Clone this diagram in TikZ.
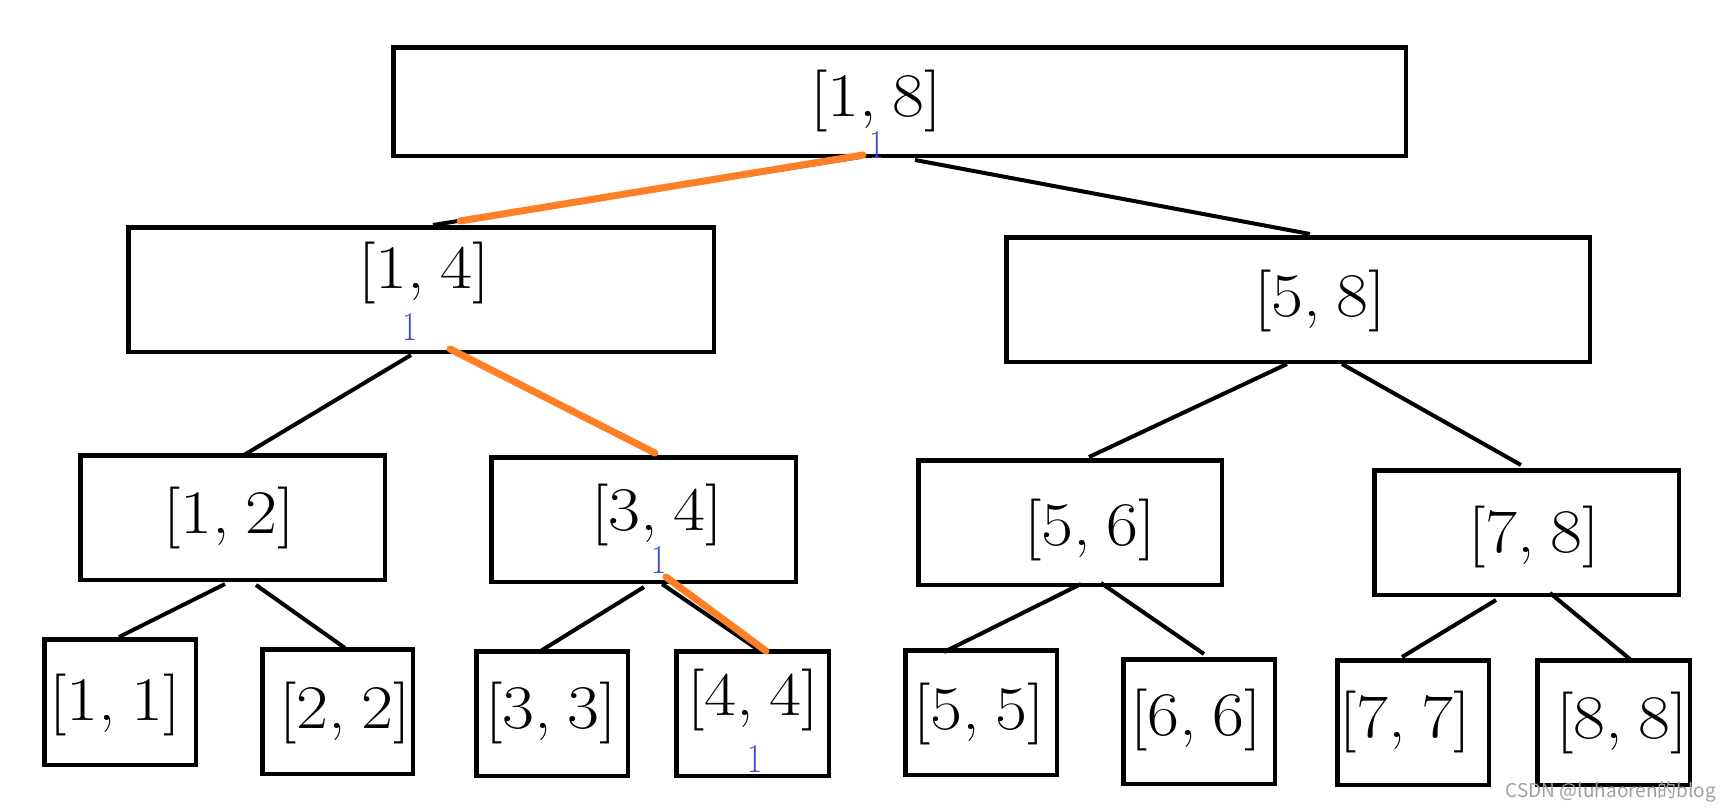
\documentclass[tikz,border=0pt]{standalone}
\usepackage{fontspec}
\newfontfamily\cjk{Noto Sans CJK SC}
\usetikzlibrary{calc}
\definecolor{ora}{RGB}{255,127,39}
\definecolor{blu}{RGB}{63,72,204}
\definecolor{wmc}{RGB}{160,160,160}
\newcommand{\iv}[2]{\scalebox{1.12}[1]{[#1,\hspace{0.22em}#2]}}
\newcommand{\bx}[5]{\node[box,minimum width={(#4-#2-4.5)*1pt},minimum height={(#5-#3-4.5)*1pt}] (#1) at ({(#2+#4)/2},{(#3+#5)/2}) {};}
\begin{document}
\begin{tikzpicture}[x=1pt,y=-1pt,
  box/.style={draw=black,line width=4.5pt,inner sep=0pt,fill=white},
  lbl/.style={inner sep=0pt,font=\fontsize{62}{72}\selectfont},
  num/.style={inner sep=0pt,text=blu,font=\fontsize{41}{48}\selectfont},
  edge/.style={draw=black,line width=4pt},
  hot/.style={draw=ora,line width=7pt,line cap=round},
  wmark/.style={inner sep=0pt,text=wmc,font=\cjk\fontsize{19}{21}\selectfont}]
\fill[white] (0,0) rectangle (1728,811);
\useasboundingbox (0,0) rectangle (1728,811);

% boxes
\bx{r}{391}{45}{1408}{158}
\bx{a}{126}{225}{716}{354}
\bx{b}{1004}{235}{1592}{364}
\bx{c}{78}{453}{387}{582}
\bx{d}{489}{455}{798}{584}
\bx{e}{916}{458}{1224}{587}
\bx{f}{1372}{468}{1681}{597}
\bx{l1}{42}{637}{198}{767}
\bx{l2}{260}{647}{415}{776}
\bx{l3}{474}{649}{630}{778}
\bx{l4}{674}{649}{831}{778}
\bx{l5}{903}{648}{1059}{777}
\bx{l6}{1121}{657}{1277}{786}
\bx{l7}{1335}{658}{1491}{787}
\bx{l8}{1535}{658}{1692}{787}

% labels
\node[lbl] (tr) at (876,101) {\iv18};
\node[lbl] (ta) at (424,273) {\iv14};
\node[lbl] (tb) at (1320,301) {\iv58};
\node[lbl] (tc) at (229,518) {\iv12};
\node[lbl] (td) at (657,515) {\iv34};
\node[lbl] (te) at (1090,530) {\iv56};
\node[lbl] (tf) at (1534,537) {\iv78};
\node[lbl] (t1) at (115,705) {\iv11};
\node[lbl] (t2) at (345,713) {\iv22};
\node[lbl] (t3) at (551,713) {\iv33};
\node[lbl] (t4) at (753,700) {\iv44};
\node[lbl] (t5) at (979,714) {\iv55};
\node[lbl] (t6) at (1196,720) {\iv66};
\node[lbl] (t7) at (1405,722) {\iv77};
\node[lbl] (t8) at (1622,723) {\iv88};

% connector end points
\coordinate (ra0) at (860,157); \coordinate (ra1) at (433,225);
\coordinate (rah0) at (863,155); \coordinate (rah1) at (460,221);
\coordinate (rb0) at (915,160); \coordinate (rb1) at (1310,234);
\coordinate (ac0) at (411,355); \coordinate (ac1) at (244,455);
\coordinate (ad0) at (450,349); \coordinate (ad1) at (655,453);
\coordinate (be0) at (1287,364); \coordinate (be1) at (1089,457);
\coordinate (bf0) at (1342,364); \coordinate (bf1) at (1521,465);
\coordinate (c10) at (225,584); \coordinate (c11) at (119,637);
\coordinate (c20) at (256,585); \coordinate (c21) at (345,648);
\coordinate (d30) at (644,587); \coordinate (d31) at (539,652);
\coordinate (d40) at (662,584); \coordinate (d41) at (760,651);
\coordinate (d4h0) at (666,577); \coordinate (d4h1) at (766,651);
\coordinate (e50) at (1081,584); \coordinate (e51) at (944,652);
\coordinate (e60) at (1101,583); \coordinate (e61) at (1204,654);
\coordinate (f70) at (1496,600); \coordinate (f71) at (1402,657);
\coordinate (f80) at (1550,593); \coordinate (f81) at (1631,660);

% black connectors
\draw[edge] (ra0) -- (ra1);
\draw[edge] (rb0) -- (rb1);
\draw[edge] (ac0) -- (ac1);
\draw[edge] (be0) -- (be1);
\draw[edge] (bf0) -- (bf1);
\draw[edge] (c10) -- (c11);
\draw[edge] (c20) -- (c21);
\draw[edge] (d30) -- (d31);
\draw[edge] (d40) -- (d41);
\draw[edge] (e50) -- (e51);
\draw[edge] (e60) -- (e61);
\draw[edge] (f70) -- (f71);
\draw[edge] (f80) -- (f81);

% highlighted (orange) path
\draw[hot] (rah0) -- (rah1);
\draw[hot] (ad0) -- (ad1);
\draw[hot] (d4h0) -- (d4h1);

% blue marks
\node[num] (n1) at (877,145) {\scalebox{0.8}[1]{1}};
\node[num] (n2) at (410,327) {\scalebox{0.8}[1]{1}};
\node[num] (n3) at (659,560) {\scalebox{0.8}[1]{1}};
\node[num] (n4) at (755,759) {\scalebox{0.8}[1]{1}};

% watermark
\node[wmark] (wm) at (1611,792) {CSDN @luhaoren的blog};
\end{tikzpicture}
\end{document}
